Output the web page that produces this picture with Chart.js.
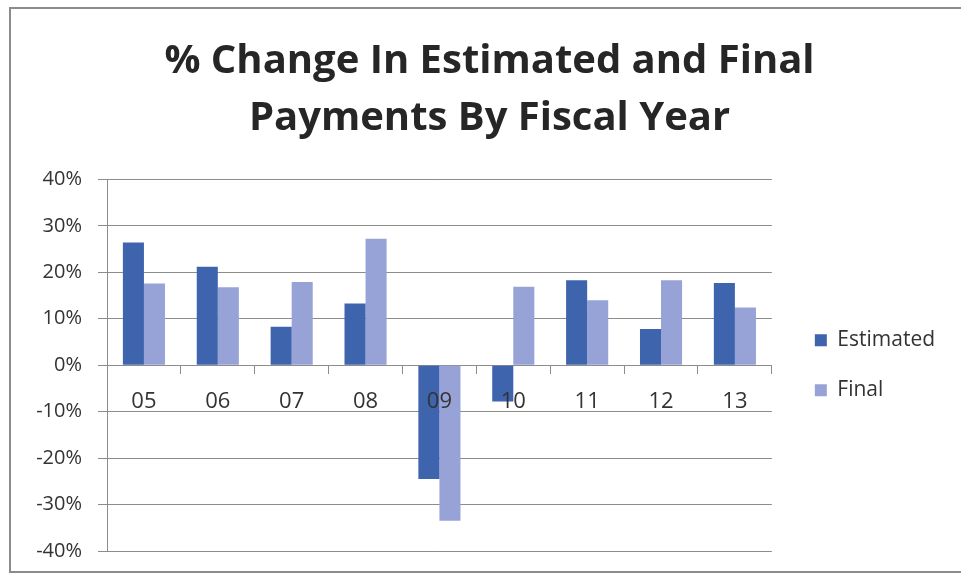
<!DOCTYPE html>
<html>
<head>
<meta charset="utf-8">
<title>% Change In Estimated and Final Payments By Fiscal Year</title>
<script src="https://cdn.jsdelivr.net/npm/chart.js@4"></script>
<style>
  html, body { margin: 0; padding: 0; background: #ffffff; }
  #wrap { position: relative; width: 961px; height: 579px; overflow: hidden; }
  #frame {
    position: absolute; left: 9px; top: 7px; width: 1000px; height: 562px;
    border: 2px solid #8c8c8c; border-right: none; pointer-events: none;
  }
</style>
</head>
<body>
<div id="wrap">
  <canvas id="chart" width="961" height="579"></canvas>
  <div id="frame"></div>
</div>
<script>
// Fiscal years (two-digit)
const categories = ['05', '06', '07', '08', '09', '10', '11', '12', '13'];

// Year-over-year % change in payments
const estimatedChange = [26.4, 21.2, 8.3, 13.3, -24.5, -7.8, 18.3, 7.8, 17.7];
const finalChange = [17.6, 16.8, 17.9, 27.2, -33.5, 16.9, 14.0, 18.3, 12.4];

// Value axis ticks
const yTickValues = [-40, -30, -20, -10, 0, 10, 20, 30, 40];

const titleLines = ['% Change In Estimated and Final', 'Payments By Fiscal Year'];
const seriesNames = ['Estimated', 'Final'];

const FONT = '"Open Sans", Lato, sans-serif';
const GRID = '#8c8c8c';
const TEXT = '#333333';

// Centre the title over the whole framed panel (plot + legend) rather than
// over the padded canvas area.
const titleNudge = {
  id: 'titleNudge',
  afterLayout(chart) {
    const t = chart.titleBlock;
    if (!t) return;
    const d = 10;
    t.left += d;
    t.right += d;
  }
};

new Chart(document.getElementById('chart'), {
  type: 'bar',
  data: {
    labels: categories,
    datasets: [
      {
        label: seriesNames[0],
        data: estimatedChange,
        backgroundColor: '#3e64ad',
        borderWidth: 0,
        categoryPercentage: 0.57,
        barPercentage: 1.0
      },
      {
        label: seriesNames[1],
        data: finalChange,
        backgroundColor: '#97a3d6',
        borderWidth: 0,
        categoryPercentage: 0.57,
        barPercentage: 1.0
      }
    ]
  },
  plugins: [titleNudge],
  options: {
    responsive: false,
    animation: false,
    layout: { padding: { left: 20, right: 22, top: 10, bottom: 26 } },
    plugins: {
      title: {
        display: true,
        text: titleLines,
        color: '#262626',
        font: { family: FONT, size: 40, weight: 'bold', lineHeight: 1.43 },
        padding: { top: 23, bottom: 32 }
      },
      legend: {
        position: 'right',
        fullSize: false,
        labels: {
          boxWidth: 12,
          boxHeight: 12,
          padding: 29,
          color: TEXT,
          font: { family: FONT, size: 21 }
        }
      },
      tooltip: { enabled: false }
    },
    scales: {
      x: {
        position: { y: 0 },
        offset: true,
        grid: {
          offset: true,
          drawOnChartArea: false,
          drawTicks: true,
          tickLength: 8,
          color: GRID
        },
        border: { display: true, color: GRID, width: 1 },
        ticks: {
          z: 1,
          padding: 15,
          color: TEXT,
          font: { family: FONT, size: 22 }
        }
      },
      y: {
        min: yTickValues[0],
        max: yTickValues[yTickValues.length - 1],
        afterFit(scale) { scale.width = 87; },
        afterBuildTicks(scale) { scale.ticks = yTickValues.map(v => ({ value: v })); },
        grid: { color: GRID, lineWidth: 1, tickLength: 9 },
        border: { display: true, color: GRID, width: 1 },
        ticks: {
          padding: 16,
          color: TEXT,
          font: { family: FONT, size: 20 },
          callback: (v) => v + '%'
        }
      },
      // spacer between the plot area and the legend
      gap: {
        type: 'linear',
        position: 'right',
        display: true,
        afterFit(scale) { scale.width = 14; },
        grid: { display: false, drawTicks: false },
        border: { display: false },
        ticks: { display: false }
      }
    }
  }
});
</script>
</body>
</html>
